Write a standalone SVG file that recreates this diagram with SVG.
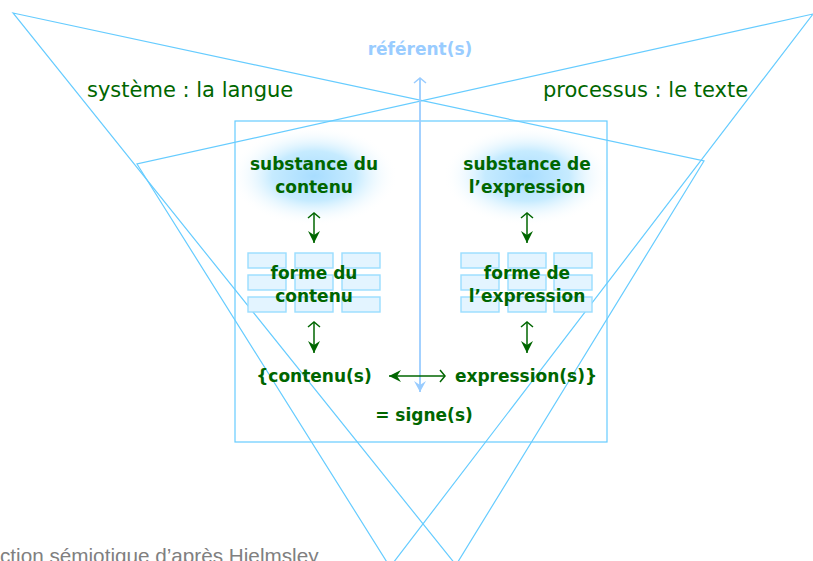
<svg xmlns="http://www.w3.org/2000/svg" width="813" height="561" viewBox="0 0 813 561">
<style>
.tri{fill:none;stroke:#66ccff;stroke-width:1.2}
.box{fill:none;stroke:#66ccff;stroke-width:1.2}
.brick{fill:#e3f4ff;stroke:#99ddff;stroke-width:1.4}
.lbl{font-family:"DejaVu Sans",Verdana,sans-serif;font-weight:bold;font-size:17px;fill:#006600;text-anchor:middle}
.big{font-family:"DejaVu Sans",Verdana,sans-serif;font-size:21px;fill:#006600}
.ref{font-family:"DejaVu Sans",Verdana,sans-serif;font-weight:bold;font-size:17px;fill:#99ccff;text-anchor:middle}
.cap{font-family:"Liberation Sans",Arial,sans-serif;font-size:20.7px;fill:#808080}
.ga{fill:none;stroke:#006600;stroke-width:1.5}
.ba{fill:none;stroke:#99ccff;stroke-width:1.8}
</style>
<defs>
<radialGradient id="glow" cx="0.5" cy="0.5" r="0.5">
<stop offset="0" stop-color="#a8ddff"/>
<stop offset="0.5" stop-color="#c6ebff"/>
<stop offset="1" stop-color="#ffffff" stop-opacity="0"/>
</radialGradient>
<marker id="hg" markerUnits="userSpaceOnUse" markerWidth="16" markerHeight="16" viewBox="-13 -8 16 16" refX="0" refY="0" orient="auto" overflow="visible">
<path d="M0,0 L-12,-6 L-8,0 L-12,6 Z" fill="#006600"/>
</marker>
<marker id="cg" markerUnits="userSpaceOnUse" markerWidth="16" markerHeight="16" viewBox="-13 -8 16 16" refX="0" refY="0" orient="auto-start-reverse" overflow="visible">
<path d="M-5,-6 L0,0 L-5,6" fill="none" stroke="#006600" stroke-width="1.5"/>
</marker>
<marker id="hb" markerUnits="userSpaceOnUse" markerWidth="16" markerHeight="16" viewBox="-13 -8 16 16" refX="0" refY="0" orient="auto" overflow="visible">
<path d="M0,0 L-11,-6 L-7,0 L-11,6 Z" fill="#99ccff"/>
</marker>
<marker id="cb" markerUnits="userSpaceOnUse" markerWidth="16" markerHeight="16" viewBox="-13 -8 16 16" refX="0" refY="0" orient="auto-start-reverse" overflow="visible">
<path d="M-5,-6 L0,0 L-5,6" fill="none" stroke="#99ccff" stroke-width="1.5"/>
</marker>
</defs>

<g id="glows">
<ellipse cx="314" cy="176" rx="84" ry="50" fill="url(#glow)"/>
<ellipse cx="527" cy="176" rx="84" ry="50" fill="url(#glow)"/>
</g>

<g id="triangle-langue">
<polygon class="tri" points="13,13 704,161 456,565"/>
</g>
<g id="triangle-texte">
<polygon class="tri" points="813,14 137,164 390,567"/>
</g>

<g id="box-signe">
<rect class="box" x="235" y="121" width="372" height="321"/>
</g>

<g id="forme-contenu-bricks">
<rect class="brick" x="248" y="253" width="38" height="15"/>
<rect class="brick" x="295" y="253" width="38" height="15"/>
<rect class="brick" x="342" y="253" width="38" height="15"/>
<rect class="brick" x="248" y="275" width="38" height="15"/>
<rect class="brick" x="295" y="275" width="38" height="15"/>
<rect class="brick" x="342" y="275" width="38" height="15"/>
<rect class="brick" x="248" y="297" width="38" height="15"/>
<rect class="brick" x="295" y="297" width="38" height="15"/>
<rect class="brick" x="342" y="297" width="38" height="15"/>
</g>
<g id="forme-expression-bricks">
<rect class="brick" x="461" y="253" width="38" height="15"/>
<rect class="brick" x="508" y="253" width="38" height="15"/>
<rect class="brick" x="554" y="253" width="38" height="15"/>
<rect class="brick" x="461" y="275" width="38" height="15"/>
<rect class="brick" x="508" y="275" width="38" height="15"/>
<rect class="brick" x="554" y="275" width="38" height="15"/>
<rect class="brick" x="461" y="297" width="38" height="15"/>
<rect class="brick" x="508" y="297" width="38" height="15"/>
<rect class="brick" x="554" y="297" width="38" height="15"/>
</g>

<g id="connectors">
<path class="ba" d="M420,78 L420,392" marker-start="url(#cb)" marker-end="url(#hb)"/>
<path class="ga" d="M314,213 L314,243" marker-start="url(#cg)" marker-end="url(#hg)"/>
<path class="ga" d="M527,213 L527,243" marker-start="url(#cg)" marker-end="url(#hg)"/>
<path class="ga" d="M314,322 L314,353" marker-start="url(#cg)" marker-end="url(#hg)"/>
<path class="ga" d="M527,322 L527,353" marker-start="url(#cg)" marker-end="url(#hg)"/>
<path class="ga" d="M445,376 L389,376" marker-start="url(#cg)" marker-end="url(#hg)"/>
</g>

<g id="referent"><text class="ref" x="420" y="55">référent(s)</text></g>
<g id="systeme"><text class="big" x="87" y="97">système : la langue</text></g>
<g id="processus"><text class="big" x="543" y="97">processus : le texte</text></g>
<g id="substance-contenu"><text class="lbl" x="314" y="170">substance du</text><text class="lbl" x="314" y="193">contenu</text></g>
<g id="substance-expression"><text class="lbl" x="527" y="170">substance de</text><text class="lbl" x="527" y="193">l’expression</text></g>
<g id="forme-contenu"><text class="lbl" x="314" y="279">forme du</text><text class="lbl" x="314" y="302">contenu</text></g>
<g id="forme-expression"><text class="lbl" x="527" y="279">forme de</text><text class="lbl" x="527" y="302">l’expression</text></g>
<g id="contenus"><text class="lbl" x="314" y="382">{contenu(s)</text></g>
<g id="expressions"><text class="lbl" x="526" y="382">expression(s)}</text></g>
<g id="signes"><text class="lbl" x="424" y="421">= signe(s)</text></g>
<g id="caption"><text class="cap" x="0" y="563">ction sémiotique d’après Hjelmsley</text></g>
</svg>
